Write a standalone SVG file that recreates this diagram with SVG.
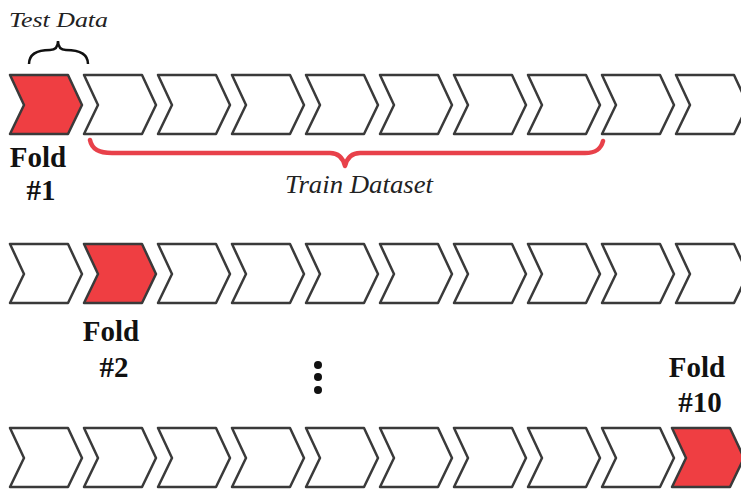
<svg xmlns="http://www.w3.org/2000/svg" width="741" height="493" viewBox="0 0 741 493">
<defs>
<style>
.ch{fill:#ffffff;stroke:#3a3a3a;stroke-width:2.5;stroke-linejoin:round}
.red{fill:#ef3e42}
.it{font-family:"Liberation Serif",serif;font-style:italic;fill:#222}
.fold{font-family:"Liberation Serif",serif;font-weight:bold;font-size:29px;fill:#111;text-anchor:middle}
</style>
<polygon id="chev" points="0,0 58,0 72,30 58,59 0,59 14,30"/>
</defs>
<rect width="741" height="493" fill="#ffffff"/>
<g id="row1">
<use href="#chev" x="10" y="75" class="ch red"/>
<use href="#chev" x="84" y="75" class="ch"/>
<use href="#chev" x="158" y="75" class="ch"/>
<use href="#chev" x="232" y="75" class="ch"/>
<use href="#chev" x="306" y="75" class="ch"/>
<use href="#chev" x="380" y="75" class="ch"/>
<use href="#chev" x="454" y="75" class="ch"/>
<use href="#chev" x="528" y="75" class="ch"/>
<use href="#chev" x="602" y="75" class="ch"/>
<use href="#chev" x="676" y="75" class="ch"/>
</g>
<g id="row2">
<use href="#chev" x="10" y="244" class="ch"/>
<use href="#chev" x="84" y="244" class="ch red"/>
<use href="#chev" x="158" y="244" class="ch"/>
<use href="#chev" x="232" y="244" class="ch"/>
<use href="#chev" x="306" y="244" class="ch"/>
<use href="#chev" x="380" y="244" class="ch"/>
<use href="#chev" x="454" y="244" class="ch"/>
<use href="#chev" x="528" y="244" class="ch"/>
<use href="#chev" x="602" y="244" class="ch"/>
<use href="#chev" x="676" y="244" class="ch"/>
</g>
<g id="row3">
<use href="#chev" x="10" y="428" class="ch"/>
<use href="#chev" x="84" y="428" class="ch"/>
<use href="#chev" x="158" y="428" class="ch"/>
<use href="#chev" x="232" y="428" class="ch"/>
<use href="#chev" x="306" y="428" class="ch"/>
<use href="#chev" x="380" y="428" class="ch"/>
<use href="#chev" x="454" y="428" class="ch"/>
<use href="#chev" x="528" y="428" class="ch"/>
<use href="#chev" x="602" y="428" class="ch"/>
<use href="#chev" x="672" y="428" class="ch red"/>
</g>
<g id="test-brace">
<path d="M29,64 C29,52 40,50 50,50 C56,50 58,46 58,41 C58,46 60,50 66,50 C76,50 88,52 88,64" fill="none" stroke="#111" stroke-width="2.5"/>
<text class="it" x="9" y="27" font-size="21" textLength="99" lengthAdjust="spacingAndGlyphs">Test Data</text>
</g>
<g id="train-brace">
<path d="M90,140 C92,150 100,153 112,153 L330,153 C338,153 343,158 345,166 C347,158 352,153 360,153 L585,153 C596,153 601,149 603,141" fill="none" stroke="#e8414a" stroke-width="4.5" stroke-linecap="round" stroke-linejoin="round"/>
<text class="it" x="285" y="193" font-size="26" textLength="148" lengthAdjust="spacingAndGlyphs">Train Dataset</text>
</g>
<g id="label1">
<text class="fold" x="38" y="167">Fold</text>
<text class="fold" x="41" y="200">#1</text>
</g>
<g id="label2">
<text class="fold" x="111" y="341">Fold</text>
<text class="fold" x="114" y="377">#2</text>
</g>
<g id="label10">
<text class="fold" x="697" y="377">Fold</text>
<text class="fold" x="700" y="412">#10</text>
</g>
<g id="dots" fill="#111">
<circle cx="318" cy="365" r="4"/>
<circle cx="318" cy="377" r="4"/>
<circle cx="318" cy="390" r="4"/>
</g>
</svg>
